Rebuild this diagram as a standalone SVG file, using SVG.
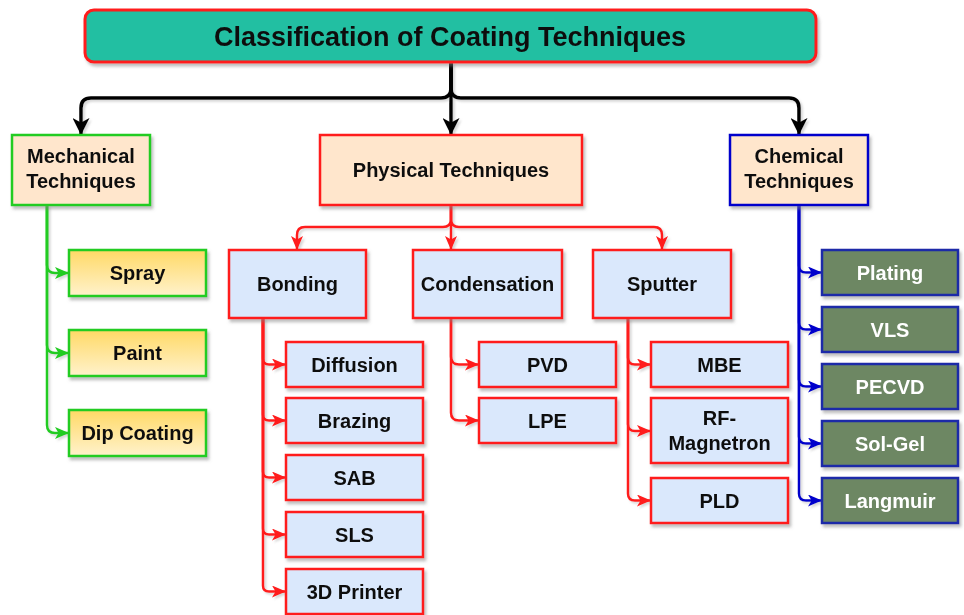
<svg xmlns="http://www.w3.org/2000/svg" width="964" height="615" viewBox="0 0 964 615">
  <defs>
    <style>
      .t { font-family: "Liberation Sans", Arial, Helvetica, sans-serif; font-weight: bold; font-size: 20px; text-anchor: middle; fill: #111; }
      .tw { fill: #ffffff; }
      .title { font-size: 27px; }
      .peach { fill: #ffe6cc; }
      .blue { fill: #dae8fc; stroke: #ff1a1a; stroke-width: 2.5; }
      .yel { fill: url(#yelGrad); stroke: #22cc22; stroke-width: 2.5; }
      .dgreen { fill: #6d8764; stroke: #1a2aa8; stroke-width: 2.5; }
      .cn { fill: none; stroke-linejoin: round; }
      .k { stroke: #000; stroke-width: 3.5; }
      .g { stroke: #22cc22; stroke-width: 2.5; }
      .r { stroke: #ff1a1a; stroke-width: 2.5; }
      .b { stroke: #0000cc; stroke-width: 2.5; }
    </style>
    <linearGradient id="yelGrad" x1="0" y1="0" x2="0" y2="1">
      <stop offset="0" stop-color="#ffd966"/>
      <stop offset="1" stop-color="#fff2cc"/>
    </linearGradient>
    <filter id="shadow" x="-10%" y="-10%" width="130%" height="140%">
      <feDropShadow dx="2" dy="3" stdDeviation="1.5" flood-color="#7f7f7f" flood-opacity="0.5"/>
    </filter>
    <filter id="lshadow" x="-10%" y="-10%" width="130%" height="130%">
      <feDropShadow dx="2" dy="2" stdDeviation="1.2" flood-color="#8a8a8a" flood-opacity="0.35"/>
    </filter>
    <marker id="aK" markerUnits="userSpaceOnUse" markerWidth="17" markerHeight="17" refX="17" refY="8.5" orient="auto">
      <path d="M0,0 L17,8.5 L0,17 L4.5,8.5 Z" fill="#000"/>
    </marker>
    <marker id="aG" markerUnits="userSpaceOnUse" markerWidth="14" markerHeight="12" refX="14" refY="6" orient="auto">
      <path d="M0,0 L14,6 L0,12 L3.5,6 Z" fill="#22cc22"/>
    </marker>
    <marker id="aR" markerUnits="userSpaceOnUse" markerWidth="14" markerHeight="12" refX="14" refY="6" orient="auto">
      <path d="M0,0 L14,6 L0,12 L3.5,6 Z" fill="#ff1a1a"/>
    </marker>
    <marker id="aB" markerUnits="userSpaceOnUse" markerWidth="14" markerHeight="12" refX="14" refY="6" orient="auto">
      <path d="M0,0 L14,6 L0,12 L3.5,6 Z" fill="#0000cc"/>
    </marker>
  </defs>

  <rect width="964" height="615" fill="#ffffff"/>

  <!-- connectors -->
  <g id="connectors" class="cn" filter="url(#lshadow)">
    <!-- root to main categories -->
    <path class="k" d="M451,62 L451,88 Q451,98 441,98 L91,98 Q81,98 81,108 L81,135" marker-end="url(#aK)"/>
    <path class="k" d="M451,62 L451,135" marker-end="url(#aK)"/>
    <path class="k" d="M451,62 L451,88 Q451,98 461,98 L789,98 Q799,98 799,108 L799,135" marker-end="url(#aK)"/>

    <!-- mechanical -->
    <path class="g" d="M47,205 L47,265 Q47,273 55,273 L69,273" marker-end="url(#aG)"/>
    <path class="g" d="M47,205 L47,345 Q47,353 55,353 L69,353" marker-end="url(#aG)"/>
    <path class="g" d="M47,205 L47,425 Q47,433 55,433 L69,433" marker-end="url(#aG)"/>

    <!-- physical -->
    <path class="r" d="M451,205 L451,219 Q451,227 443,227 L305,227 Q297,227 297,235 L297,250" marker-end="url(#aR)"/>
    <path class="r" d="M451,205 L451,250" marker-end="url(#aR)"/>
    <path class="r" d="M451,205 L451,219 Q451,227 459,227 L654,227 Q662,227 662,235 L662,250" marker-end="url(#aR)"/>

    <!-- bonding -->
    <path class="r" d="M263,318 L263,358.5 Q263,364.5 269,364.5 L286,364.5" marker-end="url(#aR)"/>
    <path class="r" d="M263,318 L263,414.5 Q263,420.5 269,420.5 L286,420.5" marker-end="url(#aR)"/>
    <path class="r" d="M263,318 L263,471.5 Q263,477.5 269,477.5 L286,477.5" marker-end="url(#aR)"/>
    <path class="r" d="M263,318 L263,528.5 Q263,534.5 269,534.5 L286,534.5" marker-end="url(#aR)"/>
    <path class="r" d="M263,318 L263,585.5 Q263,591.5 269,591.5 L286,591.5" marker-end="url(#aR)"/>

    <!-- condensation -->
    <path class="r" d="M451,318 L451,356.5 Q451,364.5 459,364.5 L479,364.5" marker-end="url(#aR)"/>
    <path class="r" d="M451,318 L451,412.5 Q451,420.5 459,420.5 L479,420.5" marker-end="url(#aR)"/>

    <!-- sputter -->
    <path class="r" d="M628,318 L628,357.5 Q628,364.5 635,364.5 L651,364.5" marker-end="url(#aR)"/>
    <path class="r" d="M628,318 L628,424 Q628,431 635,431 L651,431" marker-end="url(#aR)"/>
    <path class="r" d="M628,318 L628,493.5 Q628,500.5 635,500.5 L651,500.5" marker-end="url(#aR)"/>

    <!-- chemical -->
    <path class="b" d="M799,205 L799,265.5 Q799,272.5 806,272.5 L822,272.5" marker-end="url(#aB)"/>
    <path class="b" d="M799,205 L799,322.5 Q799,329.5 806,329.5 L822,329.5" marker-end="url(#aB)"/>
    <path class="b" d="M799,205 L799,379.5 Q799,386.5 806,386.5 L822,386.5" marker-end="url(#aB)"/>
    <path class="b" d="M799,205 L799,436.5 Q799,443.5 806,443.5 L822,443.5" marker-end="url(#aB)"/>
    <path class="b" d="M799,205 L799,493.5 Q799,500.5 806,500.5 L822,500.5" marker-end="url(#aB)"/>
  </g>

  <!-- nodes -->
  <g id="root" filter="url(#shadow)">
    <rect x="85" y="10" width="731" height="52" rx="9" fill="#22bfa2" stroke="#ff1a1a" stroke-width="3"/>
    <text class="t title" x="450" y="46">Classification of Coating Techniques</text>
  </g>

  <g id="mechanical" filter="url(#shadow)">
    <rect class="peach" x="12" y="135" width="138" height="70" stroke="#22cc22" stroke-width="2.5"/>
    <text class="t" x="81" y="163">Mechanical</text>
    <text class="t" x="81" y="188">Techniques</text>
  </g>
  <g id="physical" filter="url(#shadow)">
    <rect class="peach" x="320" y="135" width="262" height="70" stroke="#ff1a1a" stroke-width="2.5"/>
    <text class="t" x="451" y="177">Physical Techniques</text>
  </g>
  <g id="chemical" filter="url(#shadow)">
    <rect class="peach" x="730" y="135" width="138" height="70" stroke="#0000cc" stroke-width="2.5"/>
    <text class="t" x="799" y="163">Chemical</text>
    <text class="t" x="799" y="188">Techniques</text>
  </g>

  <g id="spray" filter="url(#shadow)">
    <rect class="yel" x="69" y="250" width="137" height="46"/>
    <text class="t" x="137.5" y="280">Spray</text>
  </g>
  <g id="paint" filter="url(#shadow)">
    <rect class="yel" x="69" y="330" width="137" height="46"/>
    <text class="t" x="137.5" y="360">Paint</text>
  </g>
  <g id="dip-coating" filter="url(#shadow)">
    <rect class="yel" x="69" y="410" width="137" height="46"/>
    <text class="t" x="137.5" y="440">Dip Coating</text>
  </g>

  <g id="bonding" filter="url(#shadow)">
    <rect class="blue" x="229" y="250" width="137" height="68"/>
    <text class="t" x="297.5" y="291">Bonding</text>
  </g>
  <g id="condensation" filter="url(#shadow)">
    <rect class="blue" x="413" y="250" width="149" height="68"/>
    <text class="t" x="487.5" y="291">Condensation</text>
  </g>
  <g id="sputter" filter="url(#shadow)">
    <rect class="blue" x="593" y="250" width="138" height="68"/>
    <text class="t" x="662" y="291">Sputter</text>
  </g>

  <g id="diffusion" filter="url(#shadow)">
    <rect class="blue" x="286" y="342" width="137" height="45"/>
    <text class="t" x="354.5" y="371.5">Diffusion</text>
  </g>
  <g id="brazing" filter="url(#shadow)">
    <rect class="blue" x="286" y="398" width="137" height="45"/>
    <text class="t" x="354.5" y="427.5">Brazing</text>
  </g>
  <g id="sab" filter="url(#shadow)">
    <rect class="blue" x="286" y="455" width="137" height="45"/>
    <text class="t" x="354.5" y="484.5">SAB</text>
  </g>
  <g id="sls" filter="url(#shadow)">
    <rect class="blue" x="286" y="512" width="137" height="45"/>
    <text class="t" x="354.5" y="541.5">SLS</text>
  </g>
  <g id="printer-3d" filter="url(#shadow)">
    <rect class="blue" x="286" y="569" width="137" height="45"/>
    <text class="t" x="354.5" y="598.5">3D Printer</text>
  </g>

  <g id="pvd" filter="url(#shadow)">
    <rect class="blue" x="479" y="342" width="137" height="45"/>
    <text class="t" x="547.5" y="371.5">PVD</text>
  </g>
  <g id="lpe" filter="url(#shadow)">
    <rect class="blue" x="479" y="398" width="137" height="45"/>
    <text class="t" x="547.5" y="427.5">LPE</text>
  </g>

  <g id="mbe" filter="url(#shadow)">
    <rect class="blue" x="651" y="342" width="137" height="45"/>
    <text class="t" x="719.5" y="371.5">MBE</text>
  </g>
  <g id="rf-magnetron" filter="url(#shadow)">
    <rect class="blue" x="651" y="398" width="137" height="65"/>
    <text class="t" x="719.5" y="425">RF-</text>
    <text class="t" x="719.5" y="450">Magnetron</text>
  </g>
  <g id="pld" filter="url(#shadow)">
    <rect class="blue" x="651" y="478" width="137" height="45"/>
    <text class="t" x="719.5" y="507.5">PLD</text>
  </g>

  <g id="plating" filter="url(#shadow)">
    <rect class="dgreen" x="822" y="250" width="136" height="45"/>
    <text class="t tw" x="890" y="279.5">Plating</text>
  </g>
  <g id="vls" filter="url(#shadow)">
    <rect class="dgreen" x="822" y="307" width="136" height="45"/>
    <text class="t tw" x="890" y="336.5">VLS</text>
  </g>
  <g id="pecvd" filter="url(#shadow)">
    <rect class="dgreen" x="822" y="364" width="136" height="45"/>
    <text class="t tw" x="890" y="393.5">PECVD</text>
  </g>
  <g id="sol-gel" filter="url(#shadow)">
    <rect class="dgreen" x="822" y="421" width="136" height="45"/>
    <text class="t tw" x="890" y="450.5">Sol-Gel</text>
  </g>
  <g id="langmuir" filter="url(#shadow)">
    <rect class="dgreen" x="822" y="478" width="136" height="45"/>
    <text class="t tw" x="890" y="507.5">Langmuir</text>
  </g>
</svg>
